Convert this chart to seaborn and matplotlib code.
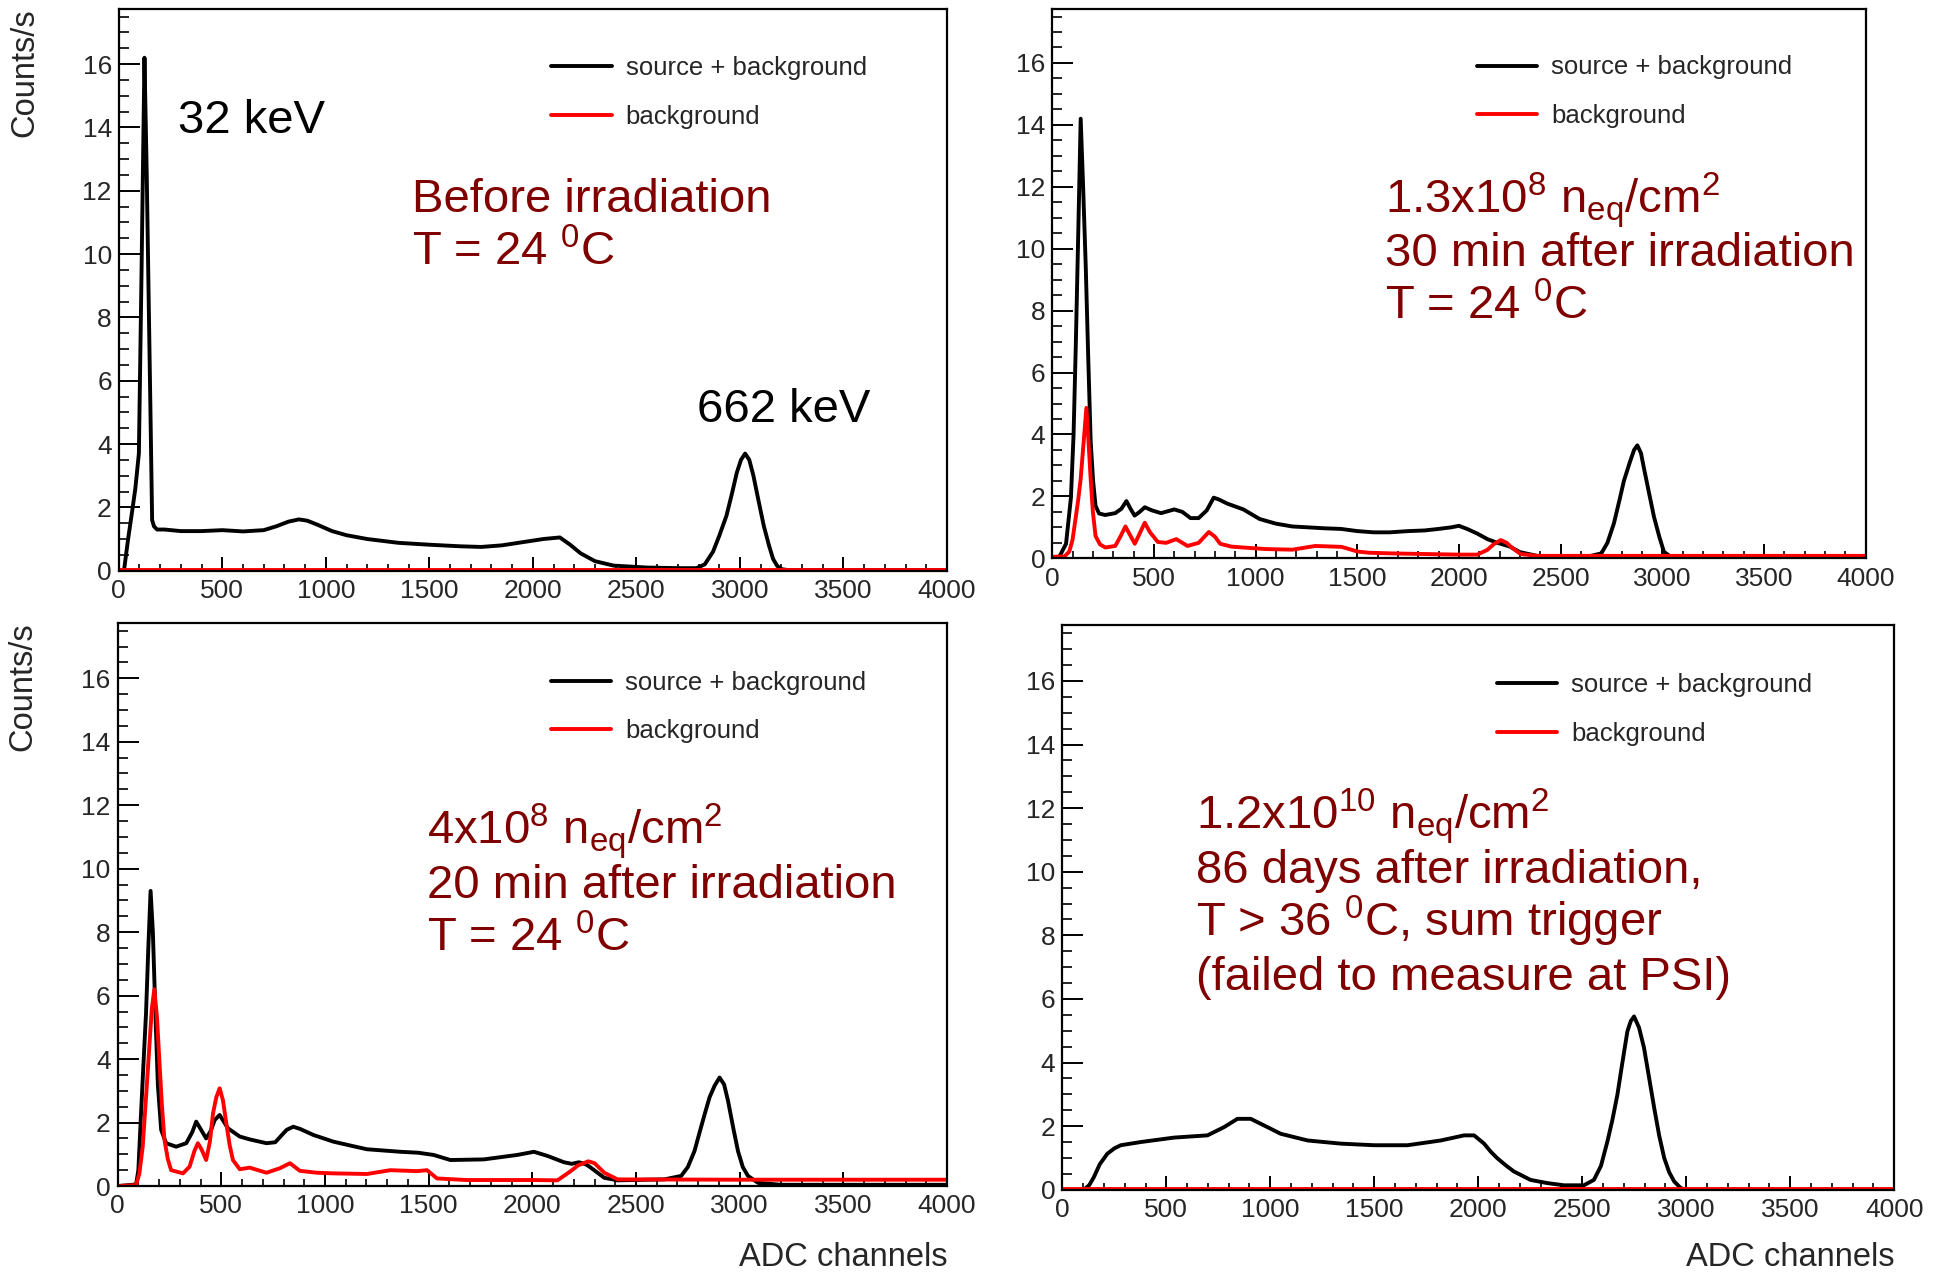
import numpy as np
import pandas as pd
import matplotlib
matplotlib.use("Agg")
import matplotlib.pyplot as plt
import seaborn as sns
from matplotlib.ticker import MultipleLocator

# ---------------- data ----------------
# Panel A : before irradiation
a_src_x = [0, 25, 45, 65, 80, 97, 110, 124, 135, 145, 153, 161, 170, 185, 220, 300, 400, 500,
           600, 700, 760, 820, 870, 910, 960, 1030, 1100, 1200, 1350, 1500, 1650, 1750, 1850,
           1950, 2050, 2130, 2180, 2230, 2300, 2390, 2550, 2700, 2790, 2830, 2870, 2900, 2935,
           2960, 2985, 3005, 3025, 3045, 3065, 3090, 3115, 3140, 3160, 3180, 3200, 3230, 3500, 4000]
a_src_y = [0, 0, 1.0, 1.9, 2.6, 3.7, 9.5, 16.2, 12.5, 8.3, 5.0, 1.6, 1.4, 1.3, 1.3, 1.25, 1.25, 1.28,
           1.24, 1.28, 1.4, 1.55, 1.62, 1.58, 1.45, 1.25, 1.12, 1.0, 0.88, 0.82, 0.77, 0.75, 0.8,
           0.9, 1.0, 1.05, 0.82, 0.55, 0.3, 0.16, 0.1, 0.08, 0.08, 0.2, 0.6, 1.1, 1.74,
           2.4, 3.1, 3.5, 3.7, 3.5, 3.0, 2.2, 1.42, 0.8, 0.37, 0.15, 0.05, 0.02, 0.02, 0.02]
a_bg_x = [0, 1000, 2000, 3000, 4000]
a_bg_y = [0.03, 0.03, 0.03, 0.03, 0.03]

# Panel B : 1.3e8 neq/cm2, 30 min after irradiation
b_src_x = [0, 35, 68, 92, 105, 116, 128, 140, 152, 165, 177, 189, 201, 213, 230, 260, 310, 340,
           365, 385, 405, 430, 455, 490, 535, 600, 640, 680, 720, 760, 794, 820, 860, 940, 1020,
           1100, 1180, 1260, 1340, 1420, 1500, 1580, 1660, 1750, 1830, 1900, 1960, 2000, 2040,
           2090, 2140, 2190, 2250, 2300, 2385, 2500, 2630, 2700, 2730, 2762, 2790, 2811, 2840,
           2861, 2877, 2895, 2910, 2935, 2959, 2985, 3008, 3041, 3100, 4000]
b_src_y = [0.02, 0.05, 0.47, 1.96, 4.0, 6.9, 10.5, 14.2, 12.0, 9.4, 6.5, 3.8, 2.5, 1.7, 1.45, 1.4,
           1.46, 1.6, 1.85, 1.6, 1.38, 1.5, 1.65, 1.55, 1.46, 1.58, 1.5, 1.3, 1.3, 1.55, 1.96, 1.9,
           1.77, 1.58, 1.27, 1.12, 1.03, 1.0, 0.97, 0.95, 0.88, 0.84, 0.84, 0.88, 0.9, 0.95, 1.0,
           1.05, 0.95, 0.8, 0.62, 0.5, 0.38, 0.2, 0.08, 0.05, 0.05, 0.16, 0.5, 1.13, 1.9, 2.5,
           3.1, 3.5, 3.65, 3.4, 2.9, 2.1, 1.34, 0.7, 0.21, 0.05, 0.04, 0.04]
b_bg_x = [0, 60, 84, 100, 116, 128, 140, 155, 168, 180, 189, 200, 213, 235, 261, 310, 335, 360,
          383, 406, 430, 455, 480, 519, 560, 610, 665, 720, 770, 800, 826, 880, 939, 1050, 1181,
          1294, 1423, 1460, 1500, 1560, 1665, 1826, 2000, 2090, 2139, 2170, 2205, 2235, 2254,
          2280, 2303, 2385, 3000, 4000]
b_bg_y = [0.05, 0.06, 0.22, 0.6, 1.34, 1.9, 2.57, 3.8, 4.86, 3.6, 2.57, 1.5, 0.72, 0.45, 0.35,
          0.4, 0.7, 1.03, 0.75, 0.47, 0.8, 1.15, 0.85, 0.53, 0.5, 0.62, 0.4, 0.5, 0.85, 0.7, 0.47,
          0.38, 0.35, 0.3, 0.28, 0.4, 0.37, 0.3, 0.22, 0.18, 0.16, 0.14, 0.12, 0.12, 0.27, 0.45,
          0.59, 0.5, 0.38, 0.25, 0.14, 0.08, 0.08, 0.08]

# Panel C : 4e8 neq/cm2, 20 min after irradiation
c_src_x = [0, 89, 100, 113, 125, 137, 148, 159, 170, 182, 194, 210, 234, 282, 331, 360, 379, 400,
           427, 450, 468, 492, 510, 532, 589, 637, 718, 760, 815, 847, 880, 944, 1040, 1120, 1202,
           1363, 1450, 1524, 1605, 1766, 1927, 2008, 2073, 2153, 2190, 2225, 2260, 2282, 2347,
           2411, 2550, 2637, 2718, 2750, 2782, 2805, 2831, 2855, 2879, 2903, 2925, 2944, 2970,
           2992, 3015, 3040, 3089, 3200, 4000]
c_src_y = [0.0, 0.05, 0.5, 2.3, 3.9, 5.45, 7.5, 9.3, 8.0, 5.5, 3.2, 1.77, 1.35, 1.24, 1.35, 1.7,
           2.03, 1.8, 1.5, 1.75, 2.08, 2.24, 2.05, 1.82, 1.56, 1.47, 1.35, 1.38, 1.77, 1.87, 1.8,
           1.61, 1.4, 1.28, 1.16, 1.08, 1.05, 0.98, 0.82, 0.84, 0.98, 1.08, 0.95, 0.75, 0.7, 0.75,
           0.68, 0.58, 0.26, 0.18, 0.2, 0.21, 0.32, 0.6, 1.1, 1.65, 2.26, 2.8, 3.16, 3.42, 3.2,
           2.68, 1.8, 1.1, 0.6, 0.32, 0.1, 0.04, 0.04]
c_bg_x = [0, 89, 105, 121, 137, 153, 165, 177, 190, 202, 214, 226, 242, 258, 315, 347, 370, 387,
          405, 427, 445, 460, 476, 492, 508, 524, 540, 556, 589, 637, 718, 782, 831, 879, 960,
          1040, 1202, 1315, 1444, 1492, 1520, 1540, 1685, 2008, 2121, 2185, 2220, 2270, 2300,
          2347, 2411, 3000, 4000]
c_bg_y = [0.0, 0.03, 0.4, 1.24, 2.8, 4.4, 5.6, 6.2, 5.3, 3.87, 2.5, 1.45, 0.85, 0.5, 0.4, 0.61,
          1.1, 1.35, 1.15, 0.82, 1.4, 2.29, 2.8, 3.08, 2.7, 1.98, 1.3, 0.82, 0.53, 0.58, 0.42,
          0.56, 0.72, 0.48, 0.42, 0.4, 0.38, 0.5, 0.47, 0.5, 0.35, 0.24, 0.19, 0.19, 0.18, 0.47,
          0.65, 0.78, 0.72, 0.42, 0.21, 0.2, 0.2]

# Panel D : 1.2e10 neq/cm2, 86 days after irradiation
d_src_x = [0, 104, 130, 152, 180, 216, 250, 281, 377, 537, 698, 778, 842, 906, 986, 1050, 1179,
           1339, 1499, 1660, 1820, 1932, 1980, 2028, 2061, 2090, 2130, 2170, 2251, 2331, 2412,
           2508, 2556, 2590, 2621, 2645, 2669, 2693, 2717, 2733, 2749, 2773, 2797, 2822, 2846,
           2870, 2894, 2918, 2942, 2974, 3000, 4000]
d_src_y = [0, 0, 0.15, 0.4, 0.8, 1.13, 1.3, 1.4, 1.5, 1.64, 1.71, 1.97, 2.23, 2.23, 1.97, 1.76,
           1.55, 1.45, 1.4, 1.4, 1.55, 1.71, 1.71, 1.45, 1.19, 1.0, 0.78, 0.58, 0.31, 0.21, 0.14,
           0.14, 0.31, 0.75, 1.52, 2.2, 2.99, 4.0, 4.98, 5.3, 5.45, 5.1, 4.46, 3.5, 2.57, 1.7,
           1.0, 0.55, 0.26, 0.05, 0.0, 0.0]
d_bg_x = [0, 1000, 2000, 3000, 4000]
d_bg_y = [0.03, 0.03, 0.03, 0.03, 0.03]

legend_labels = ["source + background", "background"]
x_label = "ADC channels"
y_label = "Counts/s"

panel_texts = {
    "A": [r"Before irradiation", r"T = 24 $^{0}$C"],
    "B": [r"1.3x10$^{8}$ n$_{eq}$/cm$^{2}$", r"30 min after irradiation", r"T = 24 $^{0}$C"],
    "C": [r"4x10$^{8}$ n$_{eq}$/cm$^{2}$", r"20 min after irradiation", r"T = 24 $^{0}$C"],
    "D": [r"1.2x10$^{10}$ n$_{eq}$/cm$^{2}$", r"86 days after irradiation,",
          r"T > 36 $^{0}$C, sum trigger", r"(failed to measure at PSI)"],
}

# ---------------- style ----------------
sns.set_style("white")
plt.rcParams["font.family"] = ["Liberation Sans", "DejaVu Sans"]
plt.rcParams["mathtext.fontset"] = "custom"
plt.rcParams["mathtext.rm"] = "Liberation Sans"
plt.rcParams["mathtext.it"] = "Liberation Sans:italic"
plt.rcParams["mathtext.bf"] = "Liberation Sans:bold"
plt.rcParams["mathtext.default"] = "regular"

DARKRED = "#800000"
TICK_FS = 19
LEG_FS = 18.5
ANN_FS = 34
LAB_FS = 23.5

fig = plt.figure(figsize=(19.41, 12.73), dpi=100)

axes_rects = {
    "A": [0.0612, 0.5517, 0.4267, 0.4415],
    "B": [0.5421, 0.5614, 0.4191, 0.4317],
    "C": [0.0606, 0.0683, 0.4273, 0.4425],
    "D": [0.5473, 0.0654, 0.4286, 0.4434],
}
series = {
    "A": (a_src_x, a_src_y, a_bg_x, a_bg_y),
    "B": (b_src_x, b_src_y, b_bg_x, b_bg_y),
    "C": (c_src_x, c_src_y, c_bg_x, c_bg_y),
    "D": (d_src_x, d_src_y, d_bg_x, d_bg_y),
}
text_pos = {
    "A": (0.354, [0.639, 0.543]),
    "B": (0.409, [0.628, 0.532, 0.435]),
    "C": (0.373, [0.607, 0.512, 0.417]),
    "D": (0.161, [0.639, 0.543, 0.448, 0.354]),
}
xlabel_y = {"C": -0.10, "D": -0.093}

for key in ["A", "B", "C", "D"]:
    ax = fig.add_axes(axes_rects[key])
    sx, sy, bx, by = series[key]
    df_s = pd.DataFrame({"ch": sx, "rate": sy})
    df_b = pd.DataFrame({"ch": bx, "rate": by})
    sns.lineplot(data=df_s, x="ch", y="rate", ax=ax, color="black", lw=2.8,
                 label=legend_labels[0], estimator=None, sort=False)
    sns.lineplot(data=df_b, x="ch", y="rate", ax=ax, color="#ff0000", lw=2.8,
                 label=legend_labels[1], estimator=None, sort=False)

    ax.set_xlim(0, 4000)
    ax.set_ylim(0, 17.75)
    ax.xaxis.set_major_locator(MultipleLocator(500))
    ax.xaxis.set_minor_locator(MultipleLocator(100))
    ax.yaxis.set_major_locator(MultipleLocator(2))
    ax.yaxis.set_minor_locator(MultipleLocator(0.5))
    ax.tick_params(axis="both", which="both", direction="in", top=False, right=False,
                   left=True, bottom=True, color="black")
    ax.tick_params(axis="y", which="major", length=15, width=1.4, labelsize=TICK_FS, pad=5)
    ax.tick_params(axis="y", which="minor", length=7.5, width=1.2)
    ax.tick_params(axis="x", which="major", length=10, width=1.4, labelsize=TICK_FS, pad=6)
    ax.tick_params(axis="x", which="minor", length=5, width=1.2)
    for sp in ax.spines.values():
        sp.set_visible(True)
        sp.set_color("black")
        sp.set_linewidth(1.6)

    ax.set_xlabel("")
    ax.set_ylabel("")
    if key in ("A", "C"):
        ax.set_ylabel(y_label, fontsize=LAB_FS, loc="top")
        ax.yaxis.set_label_coords(-0.095, 1.0)
    if key in ("C", "D"):
        ax.set_xlabel(x_label, fontsize=LAB_FS, loc="right")
        ax.xaxis.set_label_coords(1.0, xlabel_y[key])

    ax.legend(loc="upper left", bbox_to_anchor=(0.522, 0.915), frameon=False,
              fontsize=LEG_FS, handlelength=2.35, handletextpad=0.55,
              labelspacing=0.95, borderpad=0, borderaxespad=0)

    tx, tys = text_pos[key]
    for line, ty in zip(panel_texts[key], tys):
        ax.text(tx, ty, line, transform=ax.transAxes, color=DARKRED,
                fontsize=ANN_FS, ha="left", va="baseline")

    if key == "A":
        ax.text(0.071, 0.779, "32 keV", transform=ax.transAxes, color="black",
                fontsize=ANN_FS, ha="left", va="baseline")
        ax.text(0.698, 0.265, "662 keV", transform=ax.transAxes, color="black",
                fontsize=ANN_FS, ha="left", va="baseline")

fig.savefig("out.png", dpi=100, facecolor="white")
